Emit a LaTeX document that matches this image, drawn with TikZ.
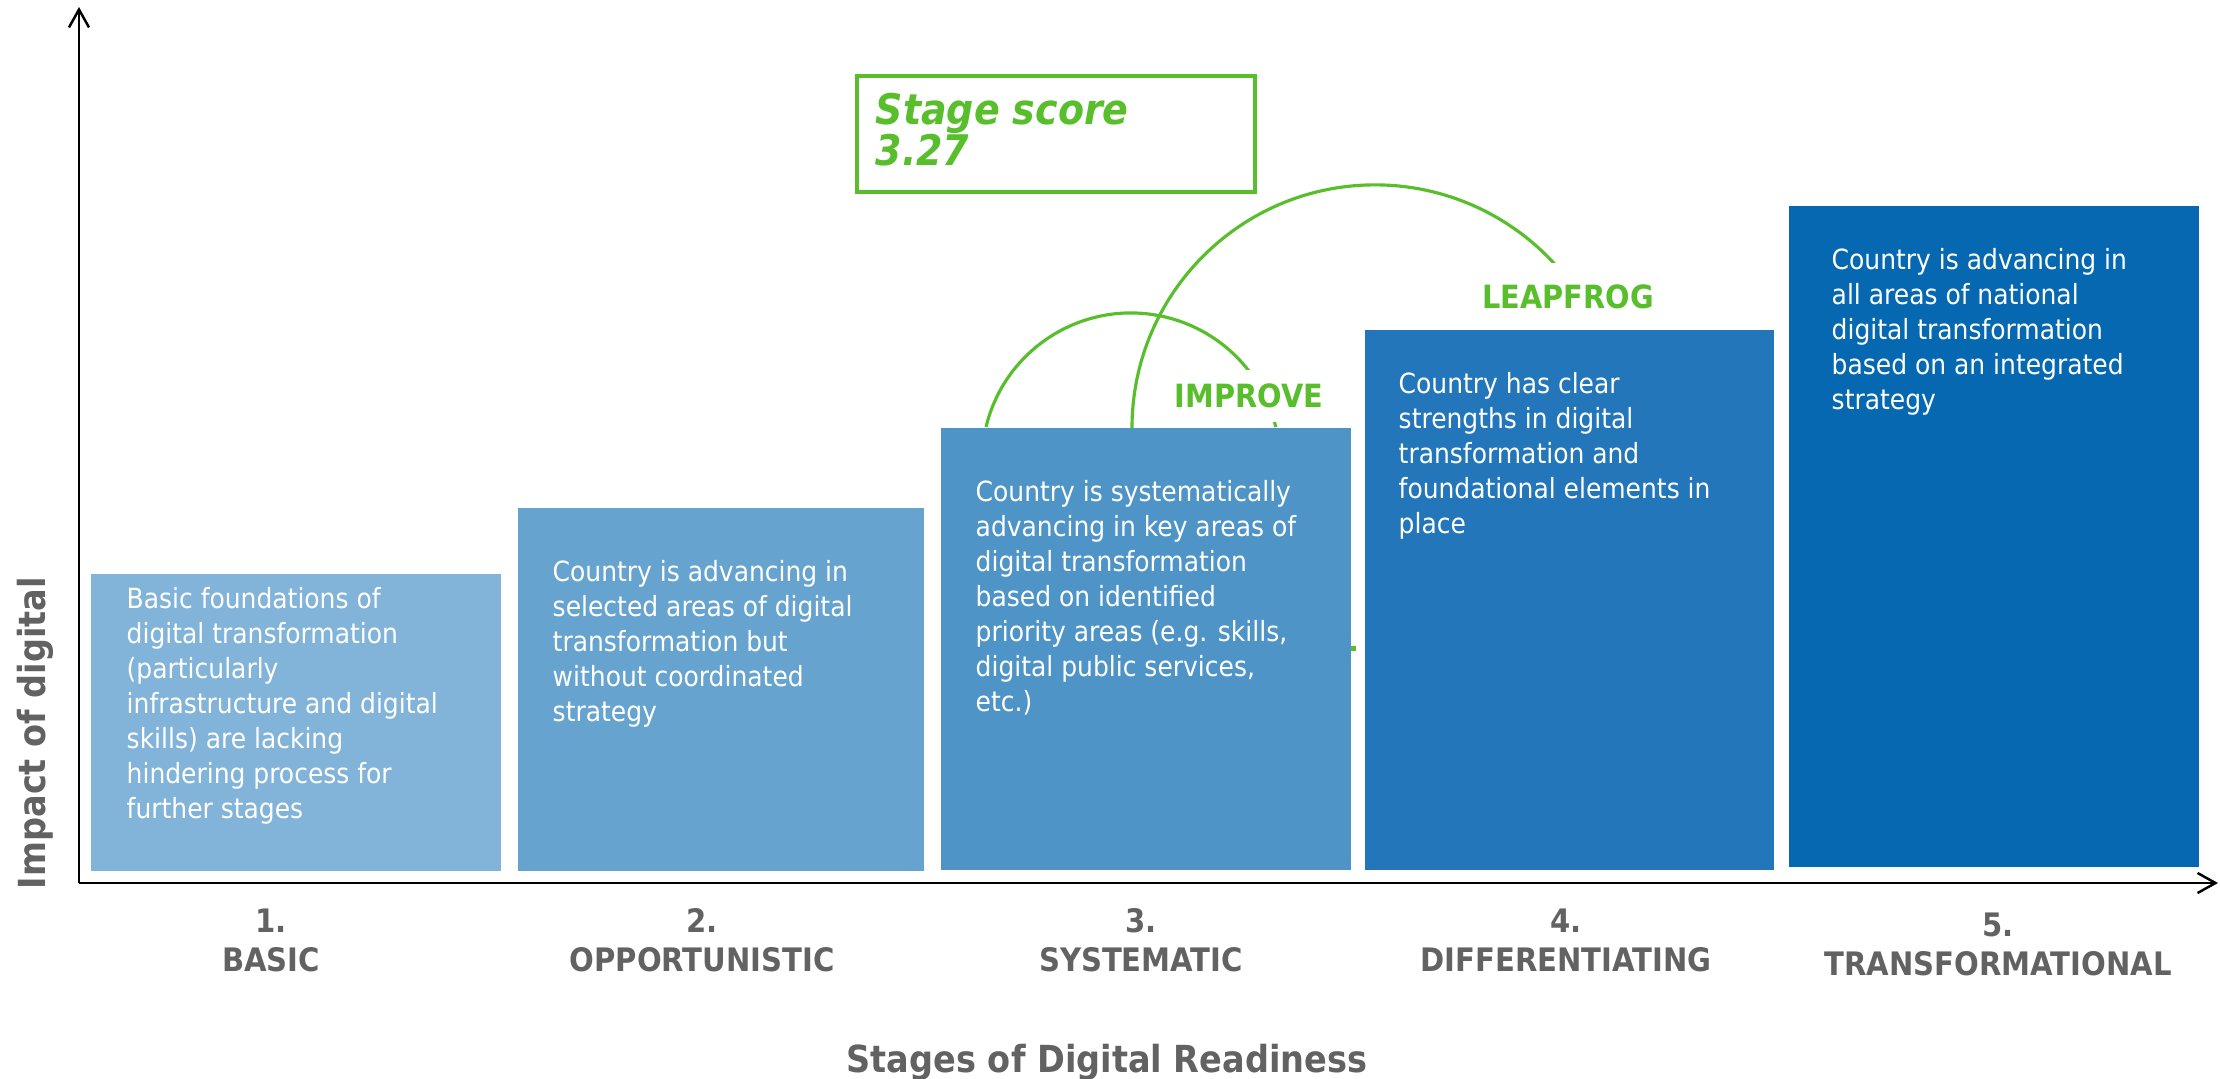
\documentclass[tikz,border=0pt]{standalone}
\usepackage{fontspec}
\usetikzlibrary{positioning,arrows.meta}

\newfontfamily\condfont{DejaVu Sans Condensed}

\definecolor{leafgreen}{RGB}{88,190,44}
\definecolor{labelgray}{RGB}{98,98,98}
\definecolor{blueA}{RGB}{130,179,216}
\definecolor{blueB}{RGB}{102,164,207}
\definecolor{blueC}{RGB}{79,148,199}
\definecolor{blueD}{RGB}{34,118,185}
\definecolor{blueE}{RGB}{5,104,176}

\begin{document}
\begin{tikzpicture}[x=0.01cm,y=-0.01cm]
\useasboundingbox (0,0) rectangle (2220,1079);

\tikzstyle{stagebox}=[anchor=north west,inner sep=0,draw=none]
\tikzstyle{boxtext}=[inner sep=0,align=left,text=white,font=\condfont\fontsize{7.9}{9.96}\selectfont]
\tikzstyle{stagelabel}=[anchor=north,inner sep=0,align=center,text=labelgray,font=\condfont\bfseries\fontsize{9.2}{11.1}\selectfont]
\tikzstyle{axistitle}=[inner sep=0,anchor=base,text=labelgray,font=\condfont\bfseries\fontsize{10.6}{12}\selectfont]
\tikzstyle{steplabel}=[fill=white,inner xsep=0.04cm,inner ysep=0,text=leafgreen,font=\condfont\bfseries\fontsize{9.1}{11}\selectfont]
\tikzstyle{scorebox}=[anchor=north west,draw=leafgreen,line width=1pt,inner sep=0,minimum width=3.98cm,minimum height=1.16cm]
\tikzstyle{scoretext}=[inner sep=0,align=left,text=leafgreen,font=\condfont\bfseries\itshape\fontsize{12}{11.7}\selectfont]
\tikzstyle{jump}=[draw=leafgreen,line width=0.9pt]
\tikzstyle{axis}=[draw=black,line width=0.7pt,-{Straight Barb[length=5.1pt,width=5.7pt]}]

%% Improve and leapfrog arcs
\coordinate (imp-start) at (986,427);
\coordinate (leap-start) at (1132,428);
\draw[jump] (imp-start) arc[start angle=166.4,end angle=13.6,radius=1.49cm];
\draw[jump] (leap-start) arc[start angle=180,end angle=24,radius=2.43cm];
\fill[leafgreen] (1351,646) rectangle (1356,651);

\node[steplabel,minimum height=0.52cm] (improve) at (1249,396) {IMPROVE};
\node[steplabel,minimum height=0.67cm] (leapfrog) at (1568,297) {LEAPFROG};

%% Stage boxes
\node[stagebox,fill=blueA,minimum width=4.10cm,minimum height=2.97cm] (b1) at (90,573) {};
\node[stagebox,fill=blueB,minimum width=4.06cm,minimum height=3.63cm] (b2) at (517,507) {};
\node[stagebox,fill=blueC,minimum width=4.10cm,minimum height=4.42cm] (b3) at (940,427) {};
\node[stagebox,fill=blueD,minimum width=4.09cm,minimum height=5.40cm] (b4) at (1364,329) {};
\node[stagebox,fill=blueE,minimum width=4.10cm,minimum height=6.61cm] (b5) at (1788,205) {};

\node[boxtext,below right=0.14cm and 0.36cm of b1.north west] (t1) {Basic foundations of\\digital transformation\\(particularly\\infrastructure and digital\\skills) are lacking\\hindering process for\\further stages};
\node[boxtext,below right=0.53cm and 0.35cm of b2.north west] (t2) {Country is advancing in\\selected areas of digital\\transformation but\\without coordinated\\strategy};
\node[boxtext,below right=0.53cm and 0.35cm of b3.north west] (t3) {Country is systematically\\advancing in key areas of\\digital transformation\\based on identified\\priority areas (e.g. skills,\\digital public services,\\etc.)};
\node[boxtext,below right=0.43cm and 0.34cm of b4.north west] (t4) {Country has clear\\strengths in digital\\transformation and\\foundational elements in\\place};
\node[boxtext,below right=0.43cm and 0.43cm of b5.north west] (t5) {Country is advancing in\\all areas of national\\digital transformation\\based on an integrated\\strategy};

%% Stage score
\node[scorebox] (score) at (855,74) {};
\node[scoretext,below right=0.18cm and 0.20cm of score.north west] (scorelbl) {Stage score\\3.27};

%% Axes
\coordinate (origin) at (79,883);
\coordinate (ytip) at (79,7);
\coordinate (xtip) at (2218,883);
\draw[axis] (origin) -- (ytip);
\draw[axis] (origin) -- (xtip);

\node[stagelabel] (s1) at (271,908) {1.\\BASIC};
\node[stagelabel] (s2) at (702,908) {2.\\OPPORTUNISTIC};
\node[stagelabel] (s3) at (1141,908) {3.\\SYSTEMATIC};
\node[stagelabel] (s4) at (1566,908) {4.\\DIFFERENTIATING};
\node[stagelabel] (s5) at (1998,912) {5.\\TRANSFORMATIONAL};

\node[axistitle] (xtitle) at (1107,1072) {Stages of Digital Readiness};
\node[axistitle,rotate=90] (ytitle) at (45,733) {Impact of digital};

\end{tikzpicture}
\end{document}
